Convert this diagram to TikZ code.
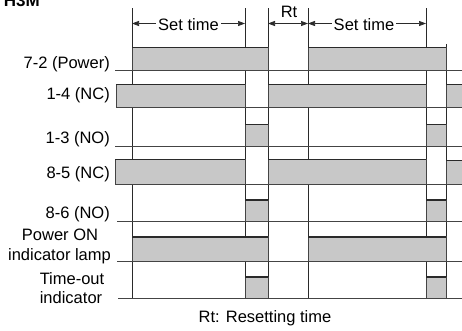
\documentclass[tikz,border=0pt]{standalone}
\usepackage{fontspec}
\setmainfont{Liberation Sans}
\usetikzlibrary{arrows.meta}
\definecolor{sig}{HTML}{C8C8C8}
\definecolor{ink}{HTML}{2A2A2A}
\definecolor{ln}{HTML}{444444}
\newcommand\hiseg[4]{%
  \path[hibox] (#1,#3) rectangle (#2,#4);
  \draw[hitop] (#1,#3) -- (#2,#3);}
\begin{document}
\begin{tikzpicture}[x=1pt,y=-1pt,
  vline/.style={draw=ink, line width=0.8pt},
  lowline/.style={draw=ln, line width=0.9pt},
  hibox/.style={fill=sig, draw=ln, line width=0.7pt},
  hitop/.style={draw=ink, line width=1.9pt},
  lbl/.style={font=\fontsize{16.5}{20}\selectfont, inner sep=0pt, text=black},
  dimarrow/.style={{Triangle[length=7pt,width=5pt]}-{Triangle[length=7pt,width=5pt]}, draw=ink, line width=0.7pt},
  gaplbl/.style={lbl, fill=white, inner xsep=2pt, inner ysep=1pt}]
\useasboundingbox (0,0) rectangle (462,331);
\clip (0,0) rectangle (462,331);

% title
\node[font=\fontsize{17}{20}\selectfont\bfseries, inner sep=0pt, anchor=base east] (title) at (40,7) {H3M};

% time markers
\foreach \x in {132,245,268,308,426}{
  \draw[vline] (\x,8.5) -- (\x,299);}
\draw[vline] (446,44) -- (446,299);

% dimension arrows
\coordinate (a0) at (132,23.5);
\coordinate (a1) at (245,23.5);
\coordinate (a2) at (268,23.5);
\coordinate (a3) at (308,23.5);
\coordinate (a4) at (426,23.5);
\draw[dimarrow] (a0) -- (a1) node[gaplbl, midway, yshift=-1pt] (st1) {Set time};
\draw[dimarrow] (a2) -- (a3);
\node[lbl, anchor=base] (rt) at (289,17.3) {Rt};
\draw[dimarrow] (a3) -- (a4) node[gaplbl, midway, xshift=-3pt, yshift=-1pt] (st2) {Set time};

% row 1: 7-2 (Power)
\draw[lowline] (115,70) -- (462,70);
\hiseg{132}{268}{47.5}{70}
\hiseg{308}{446}{47.5}{70}
\node[lbl, anchor=base east] (l72) at (110,68.5) {7-2 (Power)};

% row 2: 1-4 (NC)
\draw[lowline] (116,107) -- (462,107);
\hiseg{116}{245}{84.5}{107}
\hiseg{268}{426}{84.5}{107}
\hiseg{446}{463}{84.5}{107}
\node[lbl, anchor=base east] (l14) at (110,100) {1-4 (NC)};

% row 3: 1-3 (NO)
\draw[lowline] (115,146) -- (462,146);
\hiseg{245}{268}{124.5}{146}
\hiseg{426}{446}{124.5}{146}
\node[lbl, anchor=base east] (l13) at (110,143.5) {1-3 (NO)};

% row 4: 8-5 (NC)
\draw[lowline] (115,184.5) -- (462,184.5);
\hiseg{115}{245}{159.5}{184.5}
\hiseg{268}{426}{159.5}{184.5}
\hiseg{446}{463}{160.5}{184.5}
\node[lbl, anchor=base east] (l85) at (110,178.5) {8-5 (NC)};

% row 5: 8-6 (NO)
\draw[lowline] (117,221.7) -- (462,221.7);
\hiseg{245}{268}{200}{221.7}
\hiseg{426}{446}{200}{221.7}
\node[lbl, anchor=base east] (l86) at (110,218.5) {8-6 (NO)};

% row 6: Power ON indicator lamp
\draw[lowline] (117,261.3) -- (462,261.3);
\hiseg{132}{268}{236.7}{261.3}
\hiseg{308}{446}{236.7}{261.3}
\node[lbl, anchor=base] (lpa) at (60,240) {Power ON};
\node[lbl, anchor=base] (lpb) at (59.5,260) {indicator lamp};

% row 7: Time-out indicator
\draw[lowline] (118,298.7) -- (462,298.7);
\hiseg{245}{268}{277.3}{298.7}
\hiseg{426}{446}{277.3}{298.7}
\node[lbl, anchor=base] (lta) at (72,284) {Time-out};
\node[lbl, anchor=base] (ltb) at (71,303.3) {indicator};

% footnote
\node[lbl, anchor=base] (note) at (265,322) {Rt: Resetting time};
\end{tikzpicture}
\end{document}
